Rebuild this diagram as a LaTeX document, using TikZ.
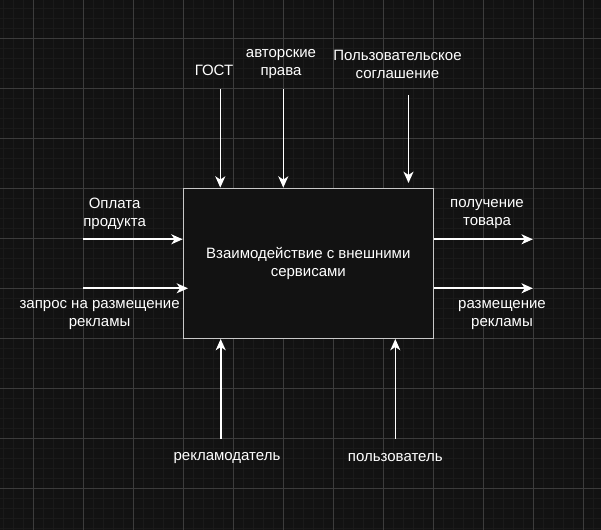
\documentclass[tikz,border=0pt]{standalone}
\usepackage{fontspec}
\setmainfont{Liberation Sans}
\usepackage{tikz}
\usetikzlibrary{
    arrows.meta,
    positioning
}
\definecolor{canvas}{HTML}{121212}
\definecolor{gridmajor}{HTML}{3C3C3C}
\definecolor{gridminor}{HTML}{1A1A1A}
\definecolor{boxline}{HTML}{C8C8C8}
\tikzset{
    flow/.style={draw=white, line width=1.2pt, -{Stealth[length=8.5pt,width=7.5pt,inset=2.5pt]}},
    func/.style={draw=boxline, line width=1pt, fill=canvas, text=white, align=center,
        minimum width=187.5pt, minimum height=112.5pt, inner sep=0pt,
        font=\fontsize{11.25}{13.5}\selectfont},
    lbl/.style={text=white, align=center, inner sep=0pt,
        font=\fontsize{11.25}{13.5}\selectfont},
}

\begin{document}
\begin{tikzpicture}[x=0.75pt,y=-0.75pt]
       \fill[canvas] (0,0) rectangle (601,530);
       \useasboundingbox (0,0) rectangle (601,530);
       % grid
       \foreach \i in {0,...,59} \draw[gridminor, line width=0.4pt] (3.3+10*\i,0) -- (3.3+10*\i,530);
       \foreach \i in {0,...,52} \draw[gridminor, line width=0.4pt] (0,8.3+10*\i) -- (601,8.3+10*\i);
       \foreach \i in {0,...,11} \draw[gridmajor, line width=0.6pt] (33.3+50*\i,0) -- (33.3+50*\i,530);
       \foreach \i in {0,...,9} \draw[gridmajor, line width=0.6pt] (0,38.3+50*\i) -- (601,38.3+50*\i);

       \node[func] (fn) at (308.3,263.3) {Взаимодействие с внешними\\сервисами};

       % controls
       \node[lbl] (c_1) at (214,70) {ГОСТ};
       \node[lbl] (c_2) at (281,64) {авторские\\права};
       \node[lbl] (c_3) at (397.5,64) {Пользовательское\\соглашение};
       \coordinate (c_1s) at (220.3,89);
       \coordinate (c_2s) at (283.3,89);
       \coordinate (c_3s) at (408.5,95);
       \coordinate (c_3e) at (408.5,183);

       % inputs
       \node[lbl] (i_1) at (114.6,214) {Оплата\\продукта};
       \node[lbl] (i_2) at (99.6,315) {запрос на размещение\\рекламы};
       \coordinate (i_1s) at (83.3,239.3);
       \coordinate (i_2s) at (83.3,288.3);
       \coordinate (i_2e) at (188,288.3);

       % outputs
       \node[lbl] (o_1) at (487,214) {получение\\товара};
       \node[lbl] (o_2) at (502,315) {размещение\\рекламы};
       \coordinate (o_1e) at (532.8,239.3);
       \coordinate (o_2e) at (532.8,288.3);

       % mechanisms
       \node[lbl] (m_1) at (227,458) {рекламодатель};
       \node[lbl] (m_2) at (395.3,458) {пользователь};
       \coordinate (m_1s) at (220.7,439);
       \coordinate (m_2s) at (395.3,439);

        \path
        (c_1s) edge[flow] (c_1s |- fn.north)
        (c_2s) edge[flow] (c_2s |- fn.north)
        (c_3s) edge[flow] (c_3e)
        (i_1s) edge[flow] (i_1s -| fn.west)
        (i_2s) edge[flow] (i_2e)
        (o_1e -| fn.east) edge[flow] (o_1e)
        (o_2e -| fn.east) edge[flow] (o_2e)
        (m_1s) edge[flow] (m_1s |- fn.south)
        (m_2s) edge[flow] (m_2s |- fn.south);
      \end{tikzpicture}
\end{document}
